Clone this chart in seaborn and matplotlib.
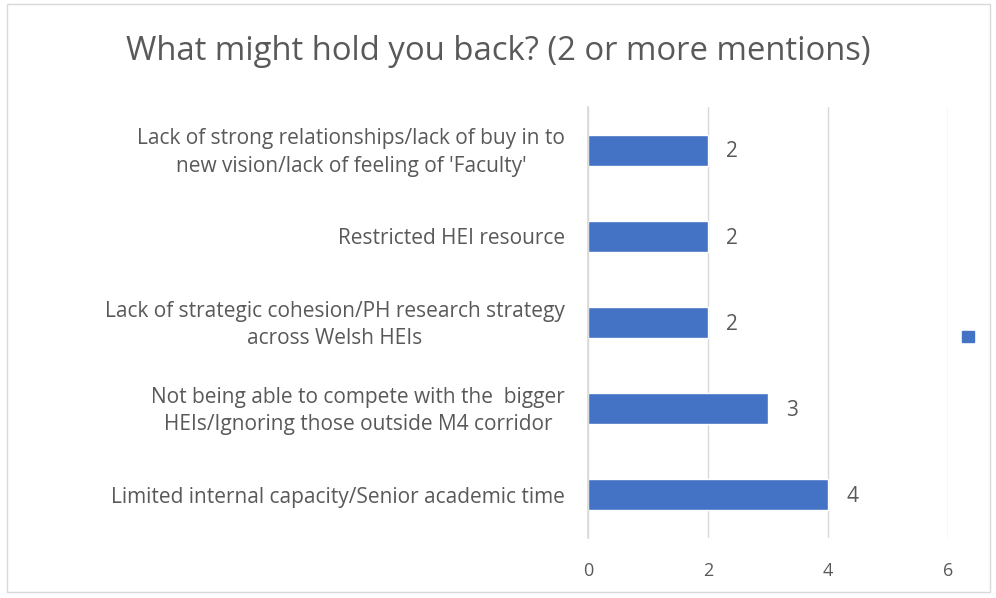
import matplotlib
matplotlib.use("Agg")
import matplotlib.pyplot as plt
import seaborn as sns
import pandas as pd
from matplotlib.patches import Rectangle, Patch
from matplotlib.transforms import blended_transform_factory

categories = [
    "Lack of strong relationships/lack of buy in to\nnew vision/lack of feeling of 'Faculty'",
    "Restricted HEI resource",
    "Lack of strategic cohesion/PH research strategy\nacross Welsh HEIs",
    "Not being able to compete with the  bigger\nHEIs/Ignoring those outside M4 corridor",
    "Limited internal capacity/Senior academic time",
]
values = [2, 2, 2, 3, 4]
xticks = [0, 2, 4, 6]
title = "What might hold you back? (2 or more mentions)"

sns.set_theme(style="white")
plt.rcParams['font.family'] = ['Open Sans', 'DejaVu Sans']
txt = "#595959"
bar_color = "#4472C4"

df = pd.DataFrame({"cat": categories, "val": values})

fig = plt.figure(figsize=(9.96, 5.98), dpi=100)
ax = fig.add_axes([588/996, 1-538/598, (948-588)/996, (538-107)/598])

sns.barplot(data=df, y="cat", x="val", orient="h", color=bar_color,
            width=0.36, ax=ax, saturation=1)

ax.set_xlim(0, 6)
ax.set_xticks(xticks)
ax.set_xticklabels([str(t) for t in xticks], color=txt, fontsize=13)
ax.set_xlabel("")
ax.set_ylabel("")
ax.set_yticks(range(len(categories)))
ax.set_yticklabels([""] * len(categories))
ax.tick_params(axis="y", length=0, pad=0)
ax.tick_params(axis="x", length=0, pad=17)
ax.set_ylim(len(categories)-0.5, -0.5)

# boundary tick marks on y axis
ax.set_yticks([i - 0.5 for i in range(len(categories)+1)], minor=True)
ax.tick_params(axis="y", which="minor", length=6, color="#D9D9D9", width=1)

for s in ["top", "right", "bottom"]:
    ax.spines[s].set_visible(False)
ax.spines["left"].set_color("#D9D9D9")
ax.grid(axis="x", color="#D9D9D9", linewidth=1)
ax.set_axisbelow(True)

renderer = fig.canvas.get_renderer()

# category labels (right-aligned block, centered lines)
trans = blended_transform_factory(ax.transAxes, ax.transData)
labs = []
for i, c in enumerate(categories):
    t = ax.text(-(588-565)/360, i + 0.03, c, transform=trans, ha="right", va="center",
                multialignment="center", color=txt, fontsize=12.5, linespacing=1.4)
    labs.append(t)
# fit size so the widest single line matches the reference width (~458 px)
w = labs[4].get_window_extent(renderer).width
fs = 12.5 * 458 / w
for t in labs:
    t.set_fontsize(fs)

for i, v in enumerate(values):
    ax.text(v + 0.3, i + 0.02, str(v), va="center", ha="left", color=txt, fontsize=fs)

tt = fig.text(0.5, 1-51/598, title, ha="center", va="center", color=txt, fontsize=21)
tw = tt.get_window_extent(renderer).width
tt.set_fontsize(21 * 745 / tw)

fig.legend(handles=[Patch(facecolor=bar_color, edgecolor=bar_color)], labels=[""],
           loc="center", bbox_to_anchor=(968/996, 1-338/598), frameon=False,
           handlelength=0.75, handleheight=0.75, handletextpad=0, borderpad=0)

fig.patches.append(Rectangle((7/996, 1-592/598), (990-7)/996, (592-4)/598,
                             transform=fig.transFigure, fill=False,
                             edgecolor="#D9D9D9", linewidth=1))

fig.savefig("out.png", dpi=100)
